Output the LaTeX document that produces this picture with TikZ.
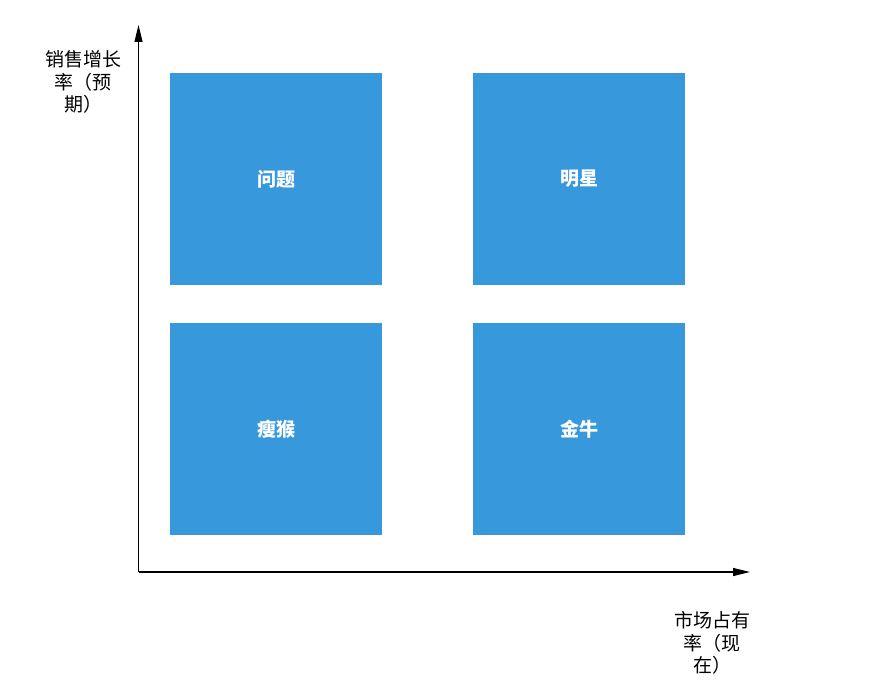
\documentclass[tikz,border=0pt]{standalone}
\usepackage{fontspec}
\newfontfamily\cjk{Noto Sans CJK SC}
\usetikzlibrary{arrows.meta}
\definecolor{boxblue}{RGB}{55,153,219}
\begin{document}
\begin{tikzpicture}[x=1pt,y=-1pt,
  quad/.style={fill=boxblue,draw=none,minimum width=212pt,minimum height=212pt,inner sep=0pt,
    text=white,font=\cjk\bfseries\fontsize{19}{22}\selectfont},
  axislabel/.style={align=center,font=\cjk\fontsize{19}{22.5}\selectfont,inner sep=0pt},
  axis/.style={line width=1.2pt,-{Triangle[length=17pt,width=8pt]}}]
\useasboundingbox (0,0) rectangle (877,698);
\node[quad] (q1) at (276,179) {问题};
\node[quad] (q2) at (579,179) {明星};
\node[quad] (q3) at (276,429) {瘦猴};
\node[quad] (q4) at (579,429) {金牛};
\coordinate (o) at (138.5,572);
\coordinate (ytop) at (138.5,25);
\coordinate (xend) at (750,572);
\draw[axis] (o) -- (ytop);
\draw[axis] (o) -- (xend);
\node[axislabel] (ylab) at (83,82) {销售增长\\率（预\\期）};
\node[axislabel] (xlab) at (712,643) {市场占有\\率（现\\在）};
\end{tikzpicture}
\end{document}
